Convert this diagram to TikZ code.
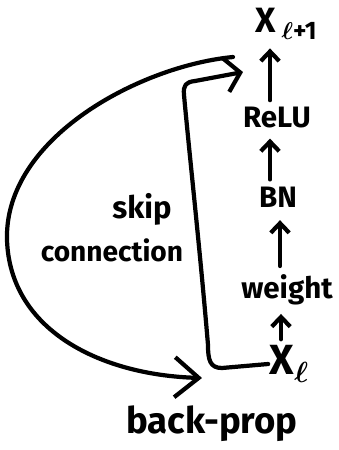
\documentclass[tikz,border=0pt]{standalone}
\usepackage{amsmath}
\usepackage{fontspec}
\setmainfont{Fira Sans}
\usetikzlibrary{arrows.meta,positioning}

\begin{document}
\begin{tikzpicture}[x=0.025cm, y=-0.025cm,
    hand/.style={line width=3pt, line cap=round, line join=round},
    lbl/.style={inner sep=1pt, font=\bfseries\fontsize{21}{24}\selectfont},
    up/.style={hand, -{Straight Barb[length=2.4mm,width=4.6mm]}}]
  \useasboundingbox (0,0) rectangle (338,450);

  % residual block, bottom to top
  \node[lbl, font=\bfseries\fontsize{25}{26}\selectfont] (xout) at (286,24)
    {X\,\raisebox{-5pt}{\fontsize{18}{18}\selectfont$\boldsymbol{\ell}$+1}};
  \node[lbl] (relu)   at (277,118) {ReLU};
  \node[lbl] (bn)     at (278,197) {BN};
  \node[lbl] (weight) at (287,290) {weight};
  \node[lbl, font=\bfseries\fontsize{30}{30}\selectfont] (xin) at (289,364)
    {X\raisebox{-6pt}{\fontsize{20}{20}\selectfont$\boldsymbol{\ell}$}};

  % small arrows between the layers
  \draw[up, shorten <=4pt, shorten >=5pt] (relu.north) ++(-7,0) coordinate (r1) -- (r1 |- xout.south);
  \draw[up, shorten <=4pt, shorten >=6pt] (bn.north) ++(-8,0) coordinate (b1) -- (b1 |- relu.south);
  \draw[up, shorten <=5pt, shorten >=8pt] (weight.north) ++(-7,0) coordinate (w1) -- (w1 |- bn.south);
  \draw[up, shorten <=3pt, shorten >=5pt] (xin.north) ++(-8,0) coordinate (x1) -- (x1 |- weight.south);

  % skip connection
  \coordinate (skipend) at (243,72);
  \draw[hand, -{Straight Barb[length=3.6mm,width=8.5mm]}]
    (xin.west) -- (222,368) .. controls (210,368) and (208,360) .. (208,345)
    .. controls (200,250) and (190,160) .. (184,95)
    .. controls (183,85) and (186,82) .. (195,81) -- (skipend);
  \node[lbl, font=\bfseries\fontsize{22}{24}\selectfont] (skip) at (142,209) {skip};
  \node[lbl, font=\bfseries\fontsize{20}{24}\selectfont] (conn) at (112,250) {connection};

  % back-prop path
  \coordinate (backstart) at (233,57);
  \coordinate (backend) at (202,378);
  \draw[hand, -{Straight Barb[length=6mm,width=10mm]}]
    (backstart) .. controls (140,66) and (4,138) .. (7,240)
    .. controls (10,330) and (100,375) .. (backend);
  \node[lbl, font=\bfseries\fontsize{26}{30}\selectfont] (back) at (212,424) {back-prop};
\end{tikzpicture}
\end{document}
